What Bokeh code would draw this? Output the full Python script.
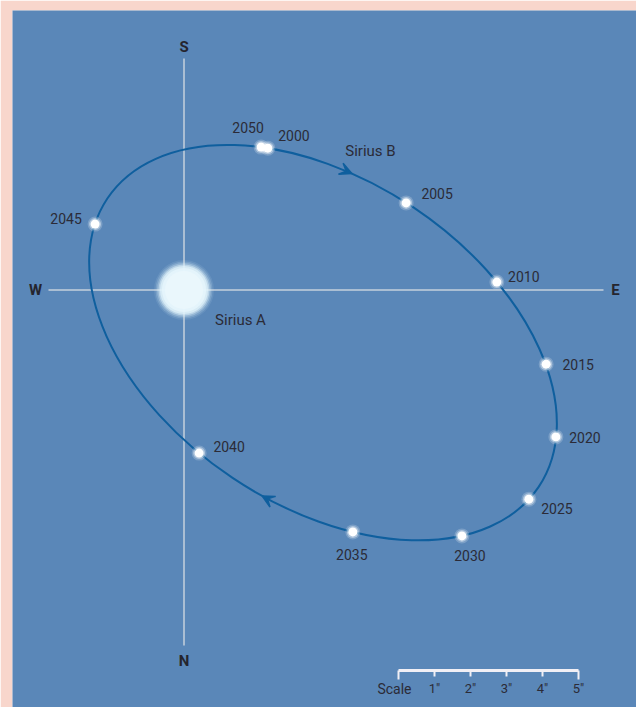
import numpy as np
from bokeh.plotting import figure
from bokeh.models import Range1d, ColumnDataSource, Arrow, VeeHead
from bokeh.core.properties import value
from bokeh.embed import file_html
from bokeh.resources import INLINE

# ---- data (arcseconds, origin at Sirius A, x: east right, y: south up) ----
years = ["2000", "2005", "2010", "2015", "2020", "2025", "2030", "2035", "2040", "2045", "2050"]
pos_x = [2.33, 6.17, 8.69, 10.06, 10.33, 9.58, 7.72, 4.69, 0.42, -2.47, 2.14]
pos_y = [3.94, 2.42, 0.22, -2.06, -4.08, -5.81, -6.83, -6.72, -4.53, 1.83, 3.97]

scale_ticks = [0, 1, 2, 3, 4, 5]
scale_labels = ["", "1\u2033", "2\u2033", "3\u2033", "4\u2033", "5\u2033"]

# ---- layout / style (pixels) ----
PX = 36.0  # pixels per arcsecond
ox, oy = 183.5, 289.5  # Sirius A in page pixels
label_dx = [26, 31, 27, 32, 29, 28, 8, -1, 30, -29, -13]
label_dy = [-13, -9, -6, 0, 1, 9, 20, 23, -7, -6, -20]

BG = "#5a87b8"
ORBIT = "#0f5f9e"
CROSS = "#c6d0dd"
TXT = "#2b2b37"
FONT = value("Roboto")

def dx(px):
    return (px - ox) / PX

def dy(py):
    return (oy - py) / PX

p = figure(width=636, height=707,
           x_range=Range1d(dx(12), dx(636)), y_range=Range1d(dy(707), dy(10)),
           x_axis_type=None, y_axis_type=None,
           output_backend="svg", toolbar_location=None,
           min_border_left=12, min_border_right=0, min_border_top=10, min_border_bottom=0,
           background_fill_color=BG, border_fill_color="#f8d6cc")
p.outline_line_color = None

# cross-hair
p.segment(x0=[dx(48), 0], y0=[0, dy(58)], x1=[dx(603), 0], y1=[0, dy(645)],
          line_color=CROSS, line_width=1.5)

# orbit: least-squares conic through the yearly positions
X = np.array(pos_x); Y = np.array(pos_y)
Amat = np.column_stack([X**2, X * Y, Y**2, X, Y])
A, B, C, D, E = np.linalg.lstsq(Amat, np.ones_like(X), rcond=None)[0]
cx, cy = np.linalg.solve([[2 * A, B], [B, 2 * C]], [-D, -E])
Fp = A * cx**2 + B * cx * cy + C * cy**2 + D * cx + E * cy - 1
M = np.array([[A, B / 2], [B / 2, C]])
w, vecs = np.linalg.eigh(M)
ax1 = np.sqrt(-Fp / w[0]); ax2 = np.sqrt(-Fp / w[1])
u1 = vecs[:, 0]; u2 = vecs[:, 1]
ang = np.arctan2(u1[1], u1[0])
p.ellipse(x=[cx], y=[cy], width=[2 * ax1], height=[2 * ax2], angle=[ang],
          fill_color=None, line_color=ORBIT, line_width=2)

# direction arrows, placed on the orbit near the read positions
arrow_at = [(dx(346), dy(170), 0, 1), (dx(267), dy(498), 7, 8)]
for axp, ayp, i0, i1 in arrow_at:
    ts = np.linspace(0, 2 * np.pi, 2000)
    ex = cx + ax1 * np.cos(ts) * u1[0] + ax2 * np.sin(ts) * u2[0]
    ey = cy + ax1 * np.cos(ts) * u1[1] + ax2 * np.sin(ts) * u2[1]
    k = np.argmin((ex - axp) ** 2 + (ey - ayp) ** 2)
    t = ts[k]
    d = -ax1 * np.sin(t) * u1 + ax2 * np.cos(t) * u2
    d = d / np.hypot(*d)
    if d[0] * (pos_x[i1] - pos_x[i0]) + d[1] * (pos_y[i1] - pos_y[i0]) < 0:
        d = -d
    px0, py0 = ex[k], ey[k]
    p.add_layout(Arrow(end=VeeHead(size=12, fill_color=ORBIT, fill_alpha=1.0,
                                   line_color=ORBIT, line_width=1.5),
                       x_start=px0 - 0.3 * d[0], y_start=py0 - 0.3 * d[1],
                       x_end=px0 + 0.17 * d[0], y_end=py0 + 0.17 * d[1],
                       line_alpha=0))

# Sirius A (soft glow)
for s, a, c in [(60, 0.10, "#d8eef9"), (57, 0.18, "#d8eef9"), (54, 0.3, "#dbeffa"),
                (51, 0.5, "#dff1fa"), (48, 0.7, "#e3f3fb"), (44, 0.9, "#e6f5fc"),
                (38, 1.0, "#eaf7fc")]:
    p.scatter(x=[0], y=[0], size=s, fill_color=c, fill_alpha=a, line_color=None)

# Sirius B positions
src = ColumnDataSource(dict(x=pos_x, y=pos_y, year=years,
                            lx=[xx + ddx / PX for xx, ddx in zip(pos_x, label_dx)],
                            ly=[yy - ddy / PX for yy, ddy in zip(pos_y, label_dy)]))
p.scatter("x", "y", source=src, size=15, fill_color="white", fill_alpha=0.2, line_color=None)
p.scatter("x", "y", source=src, size=12, fill_color="white", fill_alpha=0.4, line_color=None)
p.scatter("x", "y", source=src, size=9, fill_color="white", line_color=None)
p.text("lx", "ly", text="year", source=src, text_font=FONT, text_font_size="14px",
       text_color=TXT, text_align="center", text_baseline="middle")

# names
p.text(x=[dx(370), dx(240)], y=[dy(150), dy(319)], text=["Sirius B", "Sirius A"],
       text_font=FONT, text_font_size="15px", text_color=TXT,
       text_align="center", text_baseline="middle")

# compass letters
p.text(x=[0, 0, dx(35), dx(615)], y=[dy(46), dy(660), 0, 0], text=["S", "N", "W", "E"],
       text_font=FONT, text_font_size="15px", text_font_style="bold", text_color="#25252e",
       text_align="center", text_baseline="middle")

# scale bar
sx0 = dx(398)
sy = dy(670)
tx = [sx0 + t for t in scale_ticks]
p.segment(x0=[sx0], y0=[sy], x1=[sx0 + scale_ticks[-1]], y1=[sy], line_color="#f1eff5", line_width=3)
tick_len = [9 if t in (scale_ticks[0], scale_ticks[-1]) else 6 for t in scale_ticks]
p.segment(x0=tx, y0=[sy] * len(tx), x1=tx, y1=[sy - L / PX for L in tick_len],
          line_color="#f1eff5", line_width=2)
p.text(x=tx, y=[dy(688)] * len(tx), text=scale_labels, text_font=FONT, text_font_size="13px",
       text_color=TXT, text_align="center", text_baseline="middle")
p.text(x=[dx(394)], y=[dy(688)], text=["Scale"], text_font=FONT, text_font_size="14px",
       text_color=TXT, text_align="center", text_baseline="middle")

open("out.html", "w").write(file_html(p, INLINE))
